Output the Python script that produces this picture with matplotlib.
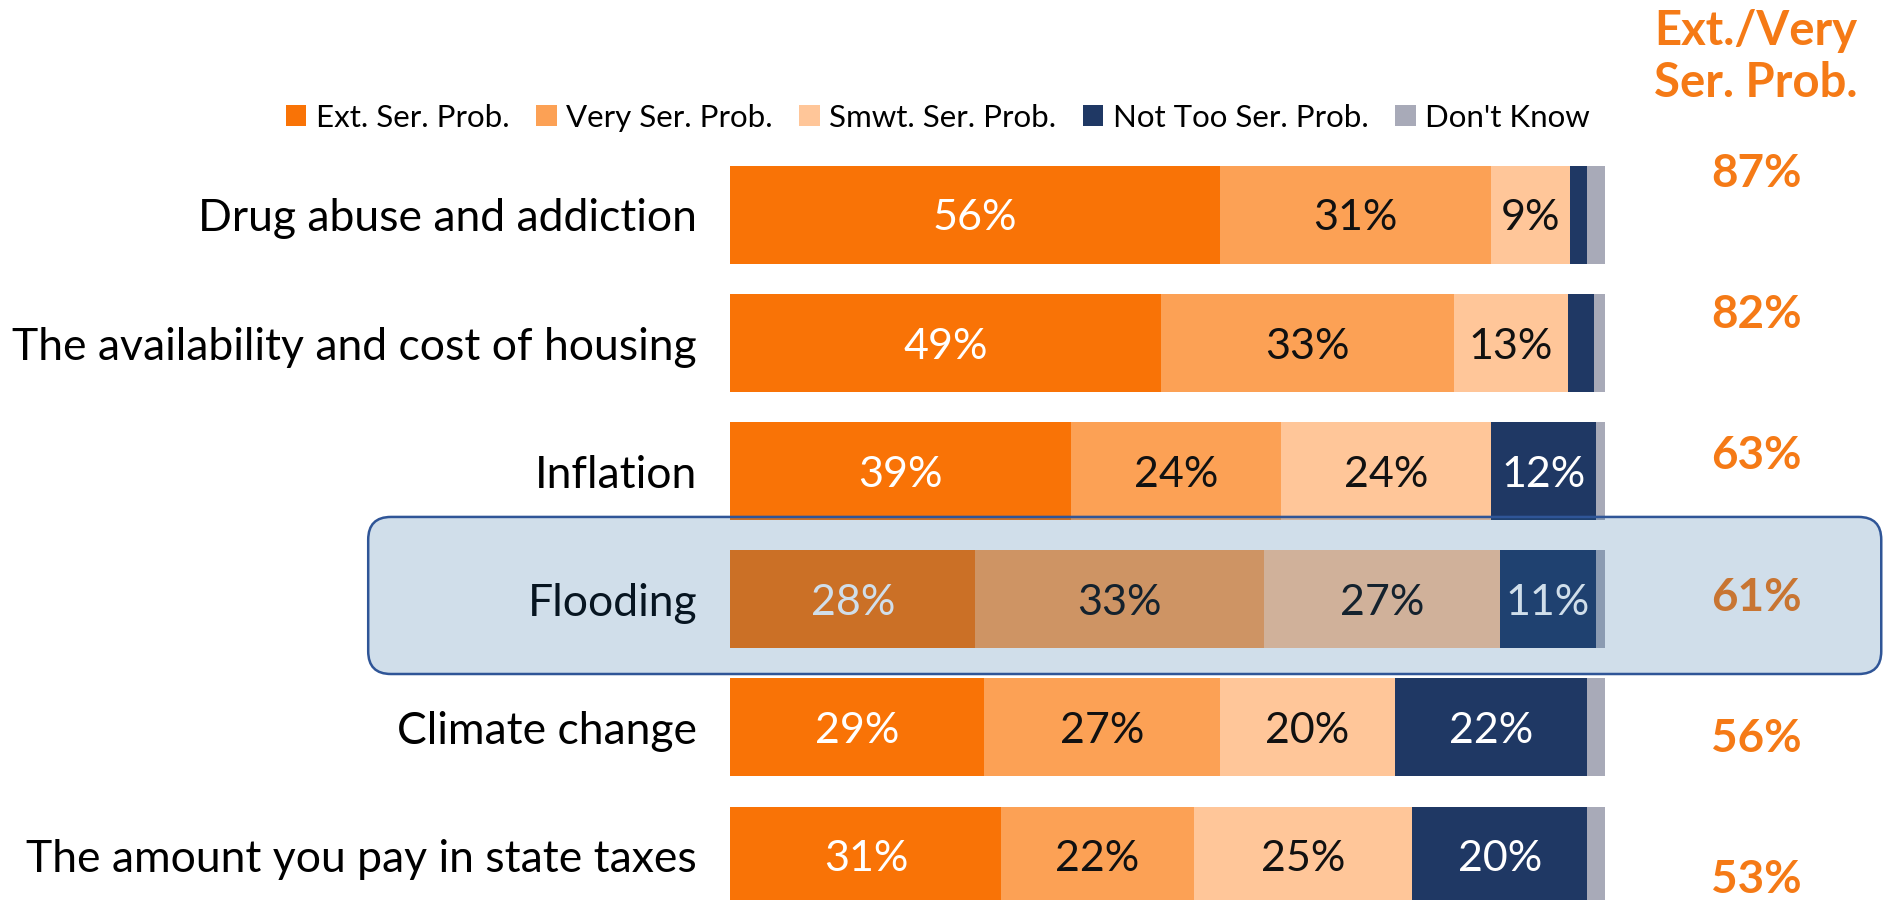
import numpy as np
from matplotlib import pyplot as plt
from matplotlib.patches import FancyBboxPatch, Rectangle

plt.rcParams['font.family'] = ['Lato', 'DejaVu Sans']

# data
categories = ['Drug abuse and addiction', 'The availability and cost of housing',
              'Inflation', 'Flooding', 'Climate change',
              'The amount you pay in state taxes']
series_names = ['Ext. Ser. Prob.', 'Very Ser. Prob.', 'Smwt. Ser. Prob.',
                'Not Too Ser. Prob.', "Don't Know"]
ext = [56, 49.3, 39, 28, 29, 31]
very = [31, 33.4, 24, 33, 27, 22]
smwt = [9, 13.1, 24, 27, 20, 25]
not_too = [2, 3, 12, 11, 22, 20]
dont_know = [2, 1.2, 1, 1, 2, 2]
ext_very = [87, 82, 63, 61, 56, 53]

COLORS = ['#F97306', '#FCA155', '#FFC699', '#1F3864', '#A8AAB8']
TEXT_COLORS = ['white', '#111111', '#111111', 'white', None]
ACCENT = '#F57A16'

fig = plt.figure(figsize=(18.9, 9), dpi=100, facecolor='white')
ax = fig.add_axes([0, 0, 1, 1])
ax.set_xlim(-83.5, 132.6)
ax.set_ylim(5.347, -1.678)
ax.axis('off')

y = np.arange(len(categories))
left = np.zeros(len(categories))
for vals, color, tcol, name in zip([ext, very, smwt, not_too, dont_know],
                                   COLORS, TEXT_COLORS, series_names):
    vals = np.array(vals, dtype=float)
    ax.barh(y, vals, left=left, height=0.765, color=color, linewidth=0, label=name)
    if tcol is not None:
        for yi, (l, v) in enumerate(zip(left, vals)):
            if v >= 5:
                ax.text(l + v / 2, yi, f'{v:.0f}%', ha='center', va='center_baseline',
                        fontsize=31, color=tcol)
    left += vals

# category labels
for yi, cat in enumerate(categories):
    ax.text(-3.8, yi, cat, ha='right', va='center_baseline', fontsize=32, color='black')

# right column: Ext./Very total
ax.text(117.3, -1.327, 'Ext./Very', ha='center', va='baseline', fontsize=34,
        fontweight='bold', color=ACCENT)
ax.text(117.3, -0.921, 'Ser. Prob.', ha='center', va='baseline', fontsize=34,
        fontweight='bold', color=ACCENT)
for i, t in enumerate(ext_very):
    ax.text(117.3, -0.35 + 1.102 * i, f'{t}%', ha='center', va='center_baseline',
            fontsize=33, fontweight='bold', color=ACCENT)

# highlight box around Flooding (translucent blue over the row)
box = FancyBboxPatch((-41.4, 2.357), 131.6 + 41.4, 3.583 - 2.357,
                     boxstyle='round,pad=0,rounding_size=2.6',
                     mutation_aspect=8.745 / 128.1,
                     facecolor=(35 / 255, 101 / 255, 158 / 255, 0.21),
                     edgecolor='#2F5597', linewidth=1.8, zorder=10)
ax.add_patch(box)

# legend
handles = [Rectangle((0, 0), 1, 1, facecolor=c, linewidth=0) for c in COLORS]
fig.legend(handles, series_names, loc='center', bbox_to_anchor=(0.4963, 0.8694),
           ncol=5, frameon=False, fontsize=22.5, handlelength=0.65, handleheight=0.62,
           handletextpad=0.3, columnspacing=0.86, borderpad=0, borderaxespad=0)

fig.savefig('out.png', dpi=100, facecolor='white')
